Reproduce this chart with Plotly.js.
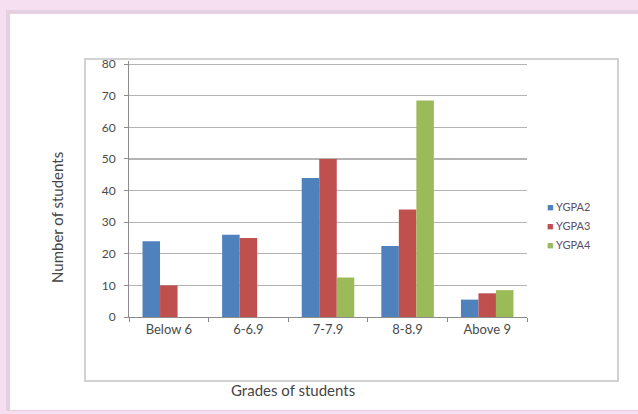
<!DOCTYPE html>
<html>
<head>
<meta charset="utf-8">
<script src="https://cdn.plot.ly/plotly-3.0.1.min.js"></script>
<style>html,body{margin:0;padding:0;background:#f7dff2;}#chart{width:638px;height:414px;}</style>
</head>
<body>
<div id="chart"></div>
<script>
var categories = ["Below 6", "6-6.9", "7-7.9", "8-8.9", "Above 9"];
var seriesNames = ["YGPA2", "YGPA3", "YGPA4"];
var ygpa2 = [24, 26, 44, 22.5, 5.5];
var ygpa3 = [10, 25, 50, 34, 7.5];
var ygpa4 = [null, null, 12.5, 68.5, 8.5];
var yTicks = [0, 10, 20, 30, 40, 50, 60, 70, 80];
var colors = ["#4f81bd", "#c0504d", "#9bbb59"];
var xTitle = "Grades of students";
var yTitle = "Number of students";

var allSeries = [ygpa2, ygpa3, ygpa4];
var traces = allSeries.map(function (vals, i) {
  return {
    type: "bar",
    name: seriesNames[i],
    x: categories,
    y: vals,
    showlegend: false,
    marker: {color: colors[i], line: {width: 0}},
    hoverinfo: "none"
  };
});
// legend entries: small coloured square glyph right before the name
seriesNames.forEach(function (n, i) {
  traces.push({
    type: "scatter", mode: "markers",
    name: '<span style="color:' + colors[i] + ';font-size:11px">■</span> ' + n,
    x: [null], y: [null],
    marker: {symbol: "square", size: 1, color: "rgba(0,0,0,0)"},
    showlegend: true, hoverinfo: "none"
  });
});

var L = 129, R = 527, T = 61, B = 317;
function px(x) { return (x - L) / (R - L); }
function py(y) { return (B - y) / (B - T); }

var FONT = "Lato, Open Sans, sans-serif";
var layout = {
  width: 638, height: 414,
  margin: {l: L, r: 638 - R, t: T, b: 414 - B, pad: 0},
  paper_bgcolor: "#f7dff2",
  plot_bgcolor: "rgba(0,0,0,0)",
  font: {family: FONT, size: 11, color: "#4a4a4a"},
  barmode: "group",
  bargap: 0.34,
  bargroupgap: 0,
  showlegend: true,
  legend: {
    x: px(507), y: py(192), xanchor: "left", yanchor: "top",
    font: {family: FONT, size: 11, color: "#5b4f6b"},
    bgcolor: "rgba(0,0,0,0)",
    itemwidth: 30,
    traceorder: "normal",
    tracegroupgap: 0
  },
  xaxis: {
    type: "category",
    showgrid: false,
    showline: true, linecolor: "#8c8c8c", linewidth: 1,
    ticks: "outside", ticklen: 4, tickcolor: "#8c8c8c",
    tickson: "boundaries",
    tickfont: {family: FONT, size: 13, color: "#4a4a4a"},
    automargin: false,
    zeroline: false
  },
  yaxis: {
    range: [0, 81],
    tickvals: yTicks,
    ticktext: yTicks.map(String),
    showgrid: true, gridcolor: "#b3b3b3", gridwidth: 1.2,
    showline: true, linecolor: "#8c8c8c", linewidth: 1,
    ticks: "outside", ticklen: 4, tickcolor: "#8c8c8c",
    ticklabelstandoff: 6,
    tickfont: {family: FONT, size: 12, color: "#4a4a4a"},
    automargin: false,
    zeroline: false
  },
  annotations: [
    {text: xTitle, xref: "paper", yref: "paper", x: px(293), y: py(390),
     xanchor: "center", yanchor: "middle", showarrow: false,
     font: {family: FONT, size: 15, color: "#454545"}},
    {text: yTitle, xref: "paper", yref: "paper", x: px(57), y: py(218),
     xanchor: "center", yanchor: "middle", showarrow: false, textangle: -90,
     font: {family: FONT, size: 15, color: "#454545"}}
  ],
  shapes: [
    {type: "rect", xref: "paper", yref: "paper", layer: "below",
     x0: px(6), x1: px(645), y0: py(411), y1: py(10),
     fillcolor: "#e6cfe0", line: {width: 0}},
    {type: "rect", xref: "paper", yref: "paper", layer: "below",
     x0: px(10), x1: px(645), y0: py(410), y1: py(14),
     fillcolor: "#ffffff", line: {width: 0}},
    {type: "rect", xref: "paper", yref: "paper", layer: "below",
     x0: px(85), x1: px(618), y0: py(381), y1: py(59),
     fillcolor: "rgba(0,0,0,0)", line: {color: "#c4c4c4", width: 1.5}}
  ]
};

Plotly.newPlot("chart", traces, layout, {staticPlot: true, displayModeBar: false});
</script>
</body>
</html>
